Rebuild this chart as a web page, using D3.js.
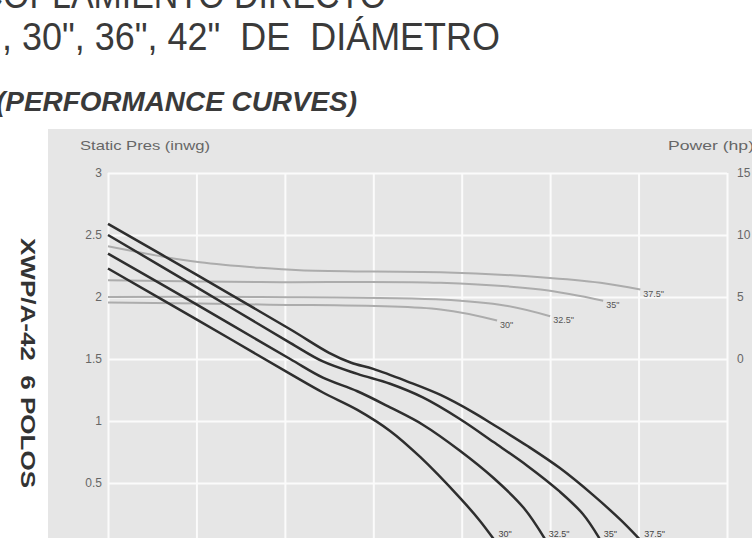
<!DOCTYPE html>
<html>
<head>
<meta charset="utf-8">
<script src="https://cdn.jsdelivr.net/npm/d3@7"></script>
<style>
  body { margin: 0; background: #fff; }
  svg { display: block; font-family: "Liberation Sans", Arial, sans-serif; }
  svg text { white-space: pre; }
</style>
</head>
<body>
<svg id="chart" width="752" height="538"></svg>
<script>
// grid columns (flow axis labels are not visible in the scan)
const flowTicks = [0, 1, 2, 3, 4, 5, 6, 7];
const presTicks = [0, 0.5, 1, 1.5, 2, 2.5, 3];
const powerTicks = [0, 5, 10, 15];
const sizes = ['30"', '32.5"', '35"', '37.5"'];

// static pressure curves [flow, inwg]
const pres30 = [[0, 2.23], [1.0, 1.82], [2.06, 1.38], [2.43, 1.23], [2.82, 1.09], [3.19, 0.92],
    [3.53, 0.71], [3.98, 0.38], [4.2, 0.2], [4.37, 0.04]];
const pres32 = [[0, 2.35], [1.0, 1.94], [2.06, 1.50], [2.43, 1.35], [2.82, 1.24], [3.19, 1.11],
    [3.56, 0.97], [3.98, 0.76], [4.36, 0.54], [4.70, 0.30], [4.94, 0.05]];
const pres35 = [[0, 2.50], [1.0, 2.08], [2.06, 1.63], [2.43, 1.48], [2.82, 1.38], [3.19, 1.30],
    [3.56, 1.19], [3.97, 1.02], [4.36, 0.83], [4.74, 0.64], [5.11, 0.43], [5.37, 0.25], [5.56, 0.05]];
const pres37 = [[0, 2.59], [1.0, 2.18], [2.06, 1.74], [2.5, 1.55], [2.75, 1.47], [3.0, 1.42],
    [3.38, 1.32], [3.76, 1.21], [4.13, 1.07], [4.36, 0.97], [4.74, 0.80], [5.11, 0.62],
    [5.49, 0.40], [5.80, 0.20], [6.02, 0.04]];

// power curves [flow, hp]
const pow30 = [[0, 4.55], [1.72, 4.4], [3.76, 4.0], [4.4, 3.1]];
const pow32 = [[0, 5.0], [1.72, 5.0], [3.76, 4.8], [4.5, 4.3], [5.0, 3.45]];
const pow35 = [[0, 6.35], [1.72, 6.2], [3.76, 6.15], [4.89, 5.6], [5.6, 4.7]];
const pow37 = [[0, 9.1], [0.59, 8.3], [1.04, 7.8], [1.72, 7.35], [2.17, 7.15], [3.0, 7.05],
    [3.76, 7.0], [4.89, 6.6], [5.57, 6.15], [6.02, 5.6]];

const presCurves = [pres30, pres32, pres35, pres37];
const powCurves = [pow30, pow32, pow35, pow37];

const svg = d3.select("#chart");
const plotLeft = 108, plotRight = 727, plotTop = 173, plotBottom = 545;

const x = d3.scaleLinear().domain([0, 7]).range([plotLeft, plotRight]);
const y = d3.scaleLinear().domain([0, 3]).range([plotBottom, plotTop]);
const yPow = d3.scaleLinear().domain([0, 15]).range([y(1.5), y(3)]);

// titles (scan is cropped at the top and left)
svg.append("text")
    .attr("x", -44).attr("y", 8)
    .attr("textLength", 430).attr("lengthAdjust", "spacingAndGlyphs")
    .style("font-size", "39px").style("fill", "#3a3a3a")
    .text("ACOPLAMIENTO DIRECTO");

svg.append("text")
    .attr("x", 2).attr("y", 50)
    .attr("textLength", 498).attr("lengthAdjust", "spacingAndGlyphs")
    .style("font-size", "39px").style("fill", "#3a3a3a")
    .text(', 30", 36", 42"  DE  DIÁMETRO');

svg.append("text")
    .attr("x", -4).attr("y", 111)
    .attr("textLength", 361).attr("lengthAdjust", "spacingAndGlyphs")
    .style("font-size", "27px").style("font-weight", "bold").style("font-style", "italic")
    .style("fill", "#3a3a3a")
    .text("(PERFORMANCE CURVES)");

svg.append("text")
    .attr("transform", "translate(21,238) rotate(90)")
    .attr("textLength", 250).attr("lengthAdjust", "spacingAndGlyphs")
    .style("font-size", "21px").style("font-weight", "bold").style("fill", "#333")
    .text("XWP/A-42  6 POLOS");

// panel
svg.append("rect")
    .attr("x", 48).attr("y", 129)
    .attr("width", 752 - 48).attr("height", 538 - 129)
    .attr("fill", "#e6e6e6");

// gridlines + tick labels
const gx = svg.append("g")
    .attr("transform", `translate(0,${plotBottom})`)
    .call(d3.axisBottom(x).tickValues(flowTicks).tickSize(-(plotBottom - plotTop)).tickFormat(""));
gx.select(".domain").remove();
gx.selectAll("line").attr("stroke", "#fbfbfb").attr("stroke-width", 2);

const gy = svg.append("g")
    .attr("transform", `translate(${plotLeft},0)`)
    .call(d3.axisLeft(y).tickValues(presTicks).tickSize(-(plotRight - plotLeft)).tickPadding(6)
        .tickFormat(d => d === 0 ? "0.0" : d));
gy.select(".domain").remove();
gy.selectAll("line").attr("stroke", "#fbfbfb").attr("stroke-width", 2);
gy.selectAll("text").style("font-size", "12px").style("fill", "#666")
    .style("font-family", "'Liberation Sans', Arial, sans-serif");

const gp = svg.append("g")
    .attr("transform", `translate(${plotRight},0)`)
    .call(d3.axisRight(yPow).tickValues(powerTicks).tickSize(0).tickPadding(10));
gp.select(".domain").remove();
gp.selectAll("text").style("font-size", "12px").style("fill", "#666")
    .style("font-family", "'Liberation Sans', Arial, sans-serif");

svg.append("text")
    .attr("x", 80).attr("y", 150)
    .attr("textLength", 130).attr("lengthAdjust", "spacingAndGlyphs")
    .style("font-size", "13px").style("fill", "#666")
    .text("Static Pres (inwg)");

svg.append("text")
    .attr("x", 668).attr("y", 150)
    .attr("textLength", 86).attr("lengthAdjust", "spacingAndGlyphs")
    .style("font-size", "13px").style("fill", "#666")
    .text("Power (hp)");

// power curves
const powLine = d3.line().x(d => x(d[0])).y(d => yPow(d[1])).curve(d3.curveCatmullRom.alpha(0.5));
svg.append("g").selectAll("path")
    .data(powCurves)
    .join("path")
    .attr("d", powLine)
    .attr("fill", "none")
    .attr("stroke", "#acacac")
    .attr("stroke-width", 2);

svg.append("g").selectAll("text")
    .data(powCurves)
    .join("text")
    .attr("x", d => x(d[d.length - 1][0]) + 3)
    .attr("y", d => yPow(d[d.length - 1][1]) + 7)
    .style("font-size", "9px").style("fill", "#555")
    .text((d, i) => sizes[i]);

// pressure curves
const presLine = d3.line().x(d => x(d[0])).y(d => y(d[1])).curve(d3.curveCatmullRom.alpha(0.5));
svg.append("g").selectAll("path")
    .data(presCurves)
    .join("path")
    .attr("d", presLine)
    .attr("fill", "none")
    .attr("stroke", "#2e2e2e")
    .attr("stroke-width", 2.5);

svg.append("g").selectAll("text")
    .data(presCurves)
    .join("text")
    .attr("x", d => x(d[d.length - 1][0]) + 4)
    .attr("y", 537)
    .style("font-size", "9px").style("fill", "#444")
    .text((d, i) => sizes[i]);
</script>
</body>
</html>
